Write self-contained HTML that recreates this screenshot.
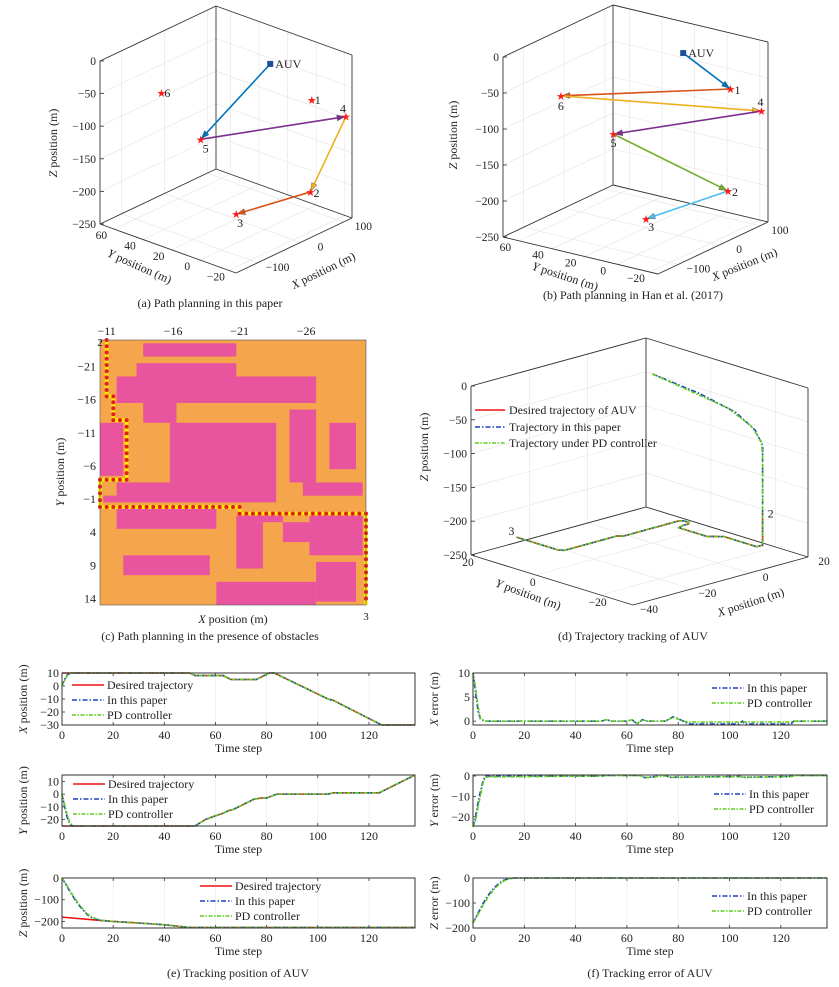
<!DOCTYPE html>
<html><head><meta charset="utf-8"><style>
body{margin:0;background:#fff;}
svg{display:block;font-family:"Liberation Serif",serif;}
</style></head><body>
<svg id="fig" width="839" height="987" viewBox="0 0 839 987"></svg>
<script>
// ---------- DATA ----------
// panel (a) points (x,y,z)
const aNames=['AUV','1','2','3','4','5','6'];
const aX=[13,63,60,-13,106,-49,-87];
const aY=[0,-14,-14,16,-25,30,46];
const aZ=[0,-60,-200,-235,-90,-120,-50];
const aOrder=['AUV','5','4','2','3'];
const aColors=['#0072BD','#7E2F8E','#EDB120','#D95319'];
// panel (b)
const bNames=['AUV','1','2','3','4','5','6'];
const bX=[12,76,70,-7,100,-27,-112];
const bY=[0,-13,-13,18,-26,33,44];
const bZ=[0,-60,-200,-235,-90,-120,-50];
const bOrder=['AUV','1','6','4','5','2','3'];
const bColors=['#0072BD','#D95319','#EDB120','#7E2F8E','#77AC30','#4DBEEE'];
const zTicks3=[0,-50,-100,-150,-200,-250];
const yTicksAB=[60,40,20,0,-20];
const xTicksAB=[-100,0,100];
// panel (c) obstacles [c0,r0,c1,r1] in grid cells
const obstacles=[[3.25,0.5,10.25,2.5],[2.75,3.5,10.25,5.5],[1.25,5.5,16.25,9.5],[3.25,9.5,5.75,12.5],
[5.25,12.5,13.25,21.5],[1.25,21.5,13.25,24.5],[0.25,23.5,1.25,24.5],[0,12.5,1.75,20.5],[14.25,10.5,16.25,21.5],
[15.25,21.5,19.75,23.5],[17.25,12.5,19.25,19.5],[1.25,25.5,8.75,28.5],[10.25,26.5,13.75,27.5],[15.75,26.5,19.75,27.5],
[10.25,27.5,12.25,34.5],[13.75,27.5,19.75,30.5],[15.75,30.5,19.75,32.5],[1.75,32.5,8.25,35.5],[8.75,36.5,16.25,40],[16.25,33.5,19.25,39.5]];
const pathC=[0.5,0.5,1,1,2,2,0,0,10.5,10.5,20,20];
const pathR=[0,8.5,8.5,12.1,12.1,21.1,21.1,25.2,25.2,26.2,26.2,40];
const cXTicks=[-11,-16,-21,-26];
const cYTicks=[-21,-16,-11,-6,-1,4,9,14];
// time series (e)
const xDesT=[0,50,52,63,66,76,79,81,83,104,106,125,138];
const xDesV=[10,10,8,8,5,5,8,10,10,-10,-11,-30,-30];
const xPapT=[0,1,2,3,4,50,52,63,66,76,79,81,83,104,106,125,138];
const xPapV=[0,5,8.5,9.6,10,10,8,8,5,5,8,10,10,-10,-11,-30,-30];
const xPdV=[0,4,8,9.4,10,10,8,8,5,5,8,10,10,-10,-11,-30,-30];
const yDesT=[0,52,56,60,63,65,67,75,78,80,84,104,106,124,138];
const yDesV=[-25,-25,-20,-17,-15,-13,-12,-4,-3,-3,0,0,1,1,15];
const yPapT=[0,1,2,3,4,5,52,56,60,63,65,67,75,78,80,84,104,106,124,138];
const yPapV=[0,-10,-18,-23,-25,-25,-25,-20,-17,-15,-13,-12,-4,-3,-3,0,0,1,1,15];
const yPdV=[0,-8,-16,-22,-24.5,-25,-25,-20,-17,-15,-13,-12,-4,-3,-3,0,0,1,1,15];
const zDesT=[0,15,20,30,40,50,138];
const zDesV=[-180,-195,-200,-207,-215,-228,-228];
const zPapT=[0,2,4,6,8,10,12,15,20,30,40,50,138];
const zPapV=[0,-40,-80,-115,-145,-170,-185,-195,-200,-207,-215,-228,-228];
const zPdV=[0,-36,-75,-110,-140,-166,-182,-194,-200,-207,-215,-228,-228];
// errors (f)
const exT=[0,1,2,3,5,50,52,54,60,62,64,66,68,75,78,80,82,84,104,105,106,124,125,138];
const exP=[10,6,2,0.3,0,0,0.3,0,0,0.3,-0.6,0.3,0,0,0.9,0.5,0,-0.6,-0.6,0,-0.6,-0.6,0,0];
const exD=[10,7,3,0.5,0,0,0.3,0,0,0.3,-0.5,0.3,0,0,0.8,0.4,0,-0.2,-0.2,0,-0.2,-0.2,0,0];
const eyT=[0,1,2,3,4,5,50,52,65,67,75,77,104,106,124,126,138];
const eyP=[-25,-20,-13,-7,-2,0,0,0.3,0.3,-0.8,0.2,-0.6,-0.2,-0.6,-0.2,0.3,0.3];
const eyD=[-25,-22,-15,-9,-3,-0.5,0,0.2,0.2,-0.9,0.1,-0.7,-0.3,-0.7,-0.3,0.2,0.2];
const ezT=[0,2,4,6,8,10,12,14,16,138];
const ezP=[-180,-140,-100,-68,-42,-22,-9,-2,0,0];
const ezD=[-180,-145,-108,-75,-48,-27,-12,-4,-0.5,0];
const tTicks=[0,20,40,60,80,100,120];

// ---------- HELPERS ----------
const NS='http://www.w3.org/2000/svg';
const svg=document.getElementById('fig');
function mk(tag,attrs,parent){const e=document.createElementNS(NS,tag);for(const k in attrs)e.setAttribute(k,attrs[k]);(parent||svg).appendChild(e);return e;}
function nm(e,name){
return e;}
function grp(name){const g=mk('g',{});nm(g,name);return g;}
function num(v){return (v<0?'\u2212':'')+Math.abs(v);}
function txt(p,x,y,s,size,anchor,rot,name){const a={x:x,y:y,'font-size':size,'text-anchor':anchor||'start',fill:'#222'};if(rot)a.transform='rotate('+rot+' '+x+' '+y+')';const t=mk('text',a,p);t.textContent=s;nm(t,name||'label');return t;}
function title(p,x,y,letter,rest,size,rot,name){const a={x:x,y:y,'font-size':size,'text-anchor':'middle',fill:'#222'};if(rot)a.transform='rotate('+rot+' '+x+' '+y+')';const t=mk('text',a,p);nm(t,name);const s1=mk('tspan',{'font-style':'italic'},t);s1.textContent=letter;const s2=mk('tspan',{},t);s2.textContent=rest;return t;}
function interp(T,V,t){if(t<=T[0])return V[0];for(let i=1;i<T.length;i++){if(t<=T[i]){const f=(t-T[i-1])/(T[i]-T[i-1]);return V[i-1]+f*(V[i]-V[i-1]);}}return V[V.length-1];}

// ---------- 3D ----------
function make3d(c){
  c.proj=function(x,y,z){const u=(x-c.xr[0])/(c.xr[1]-c.xr[0]),v=(y-c.yr[0])/(c.yr[1]-c.yr[0]),w=(z-c.zr[0])/(c.zr[1]-c.zr[0]);
    return [c.F[0]+(c.R[0]-c.F[0])*u+(c.L[0]-c.F[0])*v, c.F[1]+(c.R[1]-c.F[1])*u+(c.L[1]-c.F[1])*v-c.H*w];};
  c.uvw=function(u,v,w){return c.proj(c.xr[0]+u*(c.xr[1]-c.xr[0]),c.yr[0]+v*(c.yr[1]-c.yr[0]),c.zr[0]+w*(c.zr[1]-c.zr[0]));};
  const g=c.g;
  const ln=(p,q,col,wd,name)=>{const l=mk('line',{x1:p[0],y1:p[1],x2:q[0],y2:q[1],stroke:col,'stroke-width':wd},g);nm(l,name);return l;};
  // grid
  c.zt.forEach(z=>{const w=(z-c.zr[0])/(c.zr[1]-c.zr[0]);ln(c.uvw(0,1,w),c.uvw(1,1,w),'#e4e4e4',0.6,'grid-z');ln(c.uvw(1,1,w),c.uvw(1,0,w),'#e4e4e4',0.6,'grid-z');});
  c.xt.forEach(x=>{const u=(x-c.xr[0])/(c.xr[1]-c.xr[0]);ln(c.uvw(u,0,0),c.uvw(u,1,0),'#e4e4e4',0.6,'grid-x');ln(c.uvw(u,1,0),c.uvw(u,1,1),'#e4e4e4',0.6,'grid-x');});
  c.yt.forEach(y=>{const v=(y-c.yr[0])/(c.yr[1]-c.yr[0]);ln(c.uvw(0,v,0),c.uvw(1,v,0),'#e4e4e4',0.6,'grid-y');ln(c.uvw(1,v,0),c.uvw(1,v,1),'#e4e4e4',0.6,'grid-y');});
  const E=[[[0,1,1],[1,1,1]],[[1,1,1],[1,0,1]],[[0,1,0],[0,1,1]],[[1,1,0],[1,1,1]],[[1,0,0],[1,0,1]],[[0,1,0],[1,1,0]],[[1,1,0],[1,0,0]],[[0,1,0],[0,0,0]],[[0,0,0],[1,0,0]]];
  E.forEach(e=>ln(c.uvw(...e[0]),c.uvw(...e[1]),'#333',0.9,'box-edge'));
  c.zt.forEach(z=>{const p=c.proj(c.xr[0],c.yr[1],z);ln(p,[p[0]+4,p[1]],'#333',0.8,'z-tick');txt(g,p[0]-4,p[1]+4,num(z),11.5,'end',0,'z-tick-label');});
  c.yt.forEach(y=>{const p=c.proj(c.xr[0],y,c.zr[0]);txt(g,p[0]+c.yo[0],p[1]+c.yo[1],num(y),11.5,'middle',0,'y-tick-label');});
  c.xt.forEach(x=>{const p=c.proj(x,c.yr[0],c.zr[0]);txt(g,p[0]+c.xo[0],p[1]+c.xo[1],num(x),11.5,'middle',0,'x-tick-label');});
  return c;
}
function arrow(g,p,q,col,name){
  const l=mk('line',{x1:p[0],y1:p[1],x2:q[0],y2:q[1],stroke:col,'stroke-width':1.6},g);nm(l,name);
  const dx=q[0]-p[0],dy=q[1]-p[1],L=Math.hypot(dx,dy),ux=dx/L,uy=dy/L;
  const bx=q[0]-ux*9,by=q[1]-uy*9;
  const h=mk('polygon',{points:[q[0]-ux*1,q[1]-uy*1,bx-uy*3,by+ux*3,bx+uy*3,by-ux*3].join(' '),fill:col,stroke:'#333','stroke-width':0.3},g);nm(h,name+'-head');
}
function pathPanel(c,names,X,Y,Z,order,colors,offs){
  const g=c.g;
  const P=n=>{const i=names.indexOf(n);return c.proj(X[i],Y[i],Z[i]);};
  for(let k=0;k<order.length-1;k++)arrow(g,P(order[k]),P(order[k+1]),colors[k],'path-arrow-'+order[k]+'-'+order[k+1]);
  names.forEach((n,i)=>{const p=c.proj(X[i],Y[i],Z[i]);const o=offs[n];
    if(n==='AUV'){const r=mk('rect',{x:p[0]-3,y:p[1]-3,width:6,height:6,fill:'#1f4e99'},g);nm(r,'auv-marker');}
    else{const s=mk('text',{x:p[0],y:p[1]+4,'font-size':11,'text-anchor':'middle',fill:'#ff1a1a','font-family':'DejaVu Sans'},g);s.textContent='\u2605';nm(s,'target-star-'+n);}
    txt(g,p[0]+o[0],p[1]+o[1],n,12,'start',0,'point-label-'+n);});
}

// panel a
const ga=grp('panel-a');
const A=make3d({g:ga,F:[236,273],L:[100,224],R:[352,218],H:163,xr:[-150,120],yr:[-25,70],zr:[-250,0],zt:zTicks3,yt:yTicksAB,xt:xTicksAB,yo:[-13,10],xo:[20,8]});
pathPanel(A,aNames,aX,aY,aZ,aOrder,aColors,{AUV:[5,4],'1':[3,4],'2':[3,5],'3':[1,13],'4':[-6,-4],'5':[2,13],'6':[3,4]});
title(ga,57,143,'Z',' position (m)',12,-90,'z-axis-title');
title(ga,138,270,'Y',' position (m)',12,24,'y-axis-title');
title(ga,325,274,'X',' position (m)',12,-26,'x-axis-title');
txt(ga,210,307,'(a) Path planning in this paper',12,'middle',0,'caption-a');

// panel b
const gb=grp('panel-b');
const B=make3d({g:gb,F:[658,274],L:[503,237],R:[768,222],H:180,xr:[-150,120],yr:[-25,70],zr:[-250,0],zt:zTicks3,yt:yTicksAB,xt:xTicksAB,yo:[-14,10],xo:[20,8]});
pathPanel(B,bNames,bX,bY,bZ,bOrder,bColors,{AUV:[5,4],'1':[4,5],'2':[4,5],'3':[2,12],'4':[-4,-5],'5':[-3,13],'6':[-3,14]});
title(gb,457,135,'Z',' position (m)',12,-90,'z-axis-title');
title(gb,564,280,'Y',' position (m)',12,18,'y-axis-title');
title(gb,746,268,'X',' position (m)',12,-22,'x-axis-title');
txt(gb,633,299,'(b) Path planning in Han et al. (2017)',12,'middle',0,'caption-b');

// panel c
const gc=grp('panel-c');
const cx0=100,cy0=340,cw=13.3,ch=6.625;
const bg=mk('rect',{x:cx0,y:cy0,width:20*cw,height:40*ch,fill:'#F5A54B'},gc);nm(bg,'free-space');
obstacles.forEach((o,i)=>{const r=mk('rect',{x:cx0+o[0]*cw,y:cy0+o[1]*ch,width:(o[2]-o[0])*cw,height:(o[3]-o[1])*ch,fill:'#E8549E'},gc);nm(r,'obstacle');});
const pp=pathC.map((c,i)=>(cx0+c*cw)+','+(cy0+pathR[i]*ch)).join(' ');
const pl=mk('polyline',{points:pp,fill:'none',stroke:'#FFEE00','stroke-width':3.5},gc);nm(pl,'planned-path');
for(let i=0;i<pathC.length-1;i++){const x1=cx0+pathC[i]*cw,y1=cy0+pathR[i]*ch,x2=cx0+pathC[i+1]*cw,y2=cy0+pathR[i+1]*ch;
  const L=Math.hypot(x2-x1,y2-y1),n=Math.max(1,Math.round(L/6.6));
  for(let k=0;k<n;k++){const d=mk('circle',{cx:x1+(x2-x1)*k/n,cy:y1+(y2-y1)*k/n,r:2,fill:'#E0201A'},gc);nm(d,'path-dot');}}
const fr=mk('rect',{x:cx0,y:cy0,width:20*cw,height:40*ch,fill:'none',stroke:'#555','stroke-width':0.6},gc);nm(fr,'plot-frame');
cXTicks.forEach(v=>{const x=cx0+(-10.5-v)*cw;txt(gc,x,335,num(v),12,'middle',0,'x-tick-label');});
cYTicks.forEach(v=>{const y=cy0+(v+25)*ch;txt(gc,96,y+4,num(v),12,'end',0,'y-tick-label');});
txt(gc,100,346,'2',11,'middle',0,'start-label');
txt(gc,366,620,'3',11,'middle',0,'goal-label');
title(gc,64,472,'Y',' position (m)',12,-90,'y-axis-title');
title(gc,233,623,'X',' position (m)',12,0,'x-axis-title');
txt(gc,210,640,'(c) Path planning in the presence of obstacles',12,'middle',0,'caption-c');

// panel d
const gd=grp('panel-d');
const D=make3d({g:gd,F:[633,605],L:[471,555],R:[808,557],H:169,xr:[-40,20],yr:[-30,20],zr:[-250,0],zt:zTicks3,yt:[20,0,-20],xt:[-40,-20,0,20],yo:[-3,11],xo:[16,8]});
function traj3(XT,XV,YT,YV,ZT,ZV,col,dash,wd,name){const pts=[];for(let t=0;t<=138;t+=0.5){const p=D.proj(interp(XT,XV,t),interp(YT,YV,t),interp(ZT,ZV,t));pts.push(p.join(','));}
  const a={points:pts.join(' '),fill:'none',stroke:col,'stroke-width':wd};if(dash)a['stroke-dasharray']=dash;const l=mk('polyline',a,gd);nm(l,name);}
traj3(xDesT,xDesV,yDesT,yDesV,zDesT,zDesV,'#ee1111',null,1.6,'desired-trajectory-3d');
traj3(xPapT,xPapV,yPapT,yPapV,zPapT,zPapV,'#1f3fbf','5,2,1.5,2',1.6,'paper-trajectory-3d');
traj3(xPapT,xPdV,yPapT,yPdV,zPapT,zPdV,'#5fcf1f','4,1.5,1.5,1.5',1.6,'pd-trajectory-3d');
{const p=D.proj(xDesV[0],yDesV[0],zDesV[0]);txt(gd,p[0]+5,p[1]+5,'2',12,'start',0,'start-label');
 const q=D.proj(xDesV[xDesV.length-1],yDesV[yDesV.length-1],zDesV[zDesV.length-1]);txt(gd,q[0]-8,q[1]-2,'3',12,'start',0,'end-label');}
[['#ee1111',null,'Desired trajectory of AUV',410],['#1f3fbf','5,2,1.5,2','Trajectory in this paper',427],['#5fcf1f','4,1.5,1.5,1.5','Trajectory under PD controller',443]].forEach(e=>{
  const a={x1:475,x2:505,y1:e[3],y2:e[3],stroke:e[0],'stroke-width':1.6};if(e[1])a['stroke-dasharray']=e[1];const l=mk('line',a,gd);nm(l,'legend-line');
  txt(gd,509,e[3]+4,e[2],12,'start',0,'legend-entry');});
title(gd,428,447,'Z',' position (m)',12,-90,'z-axis-title');
title(gd,527,598,'Y',' position (m)',12,20,'y-axis-title');
title(gd,752,606,'X',' position (m)',12,-18,'x-axis-title');
txt(gd,633,640,'(d) Trajectory tracking of AUV',12,'middle',0,'caption-d');

// ---------- 2D time plots ----------
function plot2d(o){
  const g=grp(o.name);
  const X=t=>o.x0+(t-0)/(138-0)*o.w, Y=v=>o.y1-(v-o.ymin)/(o.ymax-o.ymin)*(o.y1-o.y0);
  const bgr=mk('rect',{x:o.x0,y:o.y0,width:o.w,height:o.y1-o.y0,fill:'#fff'},g);nm(bgr,'plot-area');
  tTicks.forEach(t=>{const l=mk('line',{x1:X(t),x2:X(t),y1:o.y0,y2:o.y1,stroke:'#ececec','stroke-width':0.7},g);nm(l,'grid-line');
    const a=mk('line',{x1:X(t),x2:X(t),y1:o.y1,y2:o.y1-3,stroke:'#333','stroke-width':0.8},g);nm(a,'x-tick');
    const b=mk('line',{x1:X(t),x2:X(t),y1:o.y0,y2:o.y0+3,stroke:'#333','stroke-width':0.8},g);nm(b,'x-tick');
    txt(g,X(t),o.y1+14,String(t),12,'middle',0,'x-tick-label');});
  o.yt.forEach(v=>{const a=mk('line',{x1:o.x0,x2:o.x0+3,y1:Y(v),y2:Y(v),stroke:'#333','stroke-width':0.8},g);nm(a,'y-tick');
    txt(g,o.x0-3,Y(v)+4,num(v),12,'end',0,'y-tick-label');});
  o.series.forEach(s=>{const a={points:s.T.map((t,i)=>X(t)+','+Y(s.V[i])).join(' '),fill:'none',stroke:s.c,'stroke-width':1.6};if(s.d)a['stroke-dasharray']=s.d;const l=mk('polyline',a,g);nm(l,s.n);});
  const fr=mk('rect',{x:o.x0,y:o.y0,width:o.w,height:o.y1-o.y0,fill:'none',stroke:'#333','stroke-width':1},g);nm(fr,'plot-frame');
  o.leg.forEach((e,i)=>{const y=o.ly+i*15;const a={x1:o.lx,x2:o.lx+32,y1:y,y2:y,stroke:e.c,'stroke-width':1.6};if(e.d)a['stroke-dasharray']=e.d;const l=mk('line',a,g);nm(l,'legend-line');
    txt(g,o.lx+35,y+4,e.t,12,'start',0,'legend-entry');});
  title(g,o.x0-35,(o.y0+o.y1)/2,o.yl[0],o.yl[1],12,-90,'y-axis-title');
  txt(g,o.x0+o.w/2,o.y1+27,'Time step',12,'middle',0,'x-axis-title');
}
const RED='#ee1111',BLU='#1f3fbf',GRN='#5fcf1f',DB='5,2,1.5,2',DG='4,1.5,1.5,1.5';
const L3=[{c:RED,t:'Desired trajectory'},{c:BLU,d:DB,t:'In this paper'},{c:GRN,d:DG,t:'PD controller'}];
const L2=[{c:BLU,d:DB,t:'In this paper'},{c:GRN,d:DG,t:'PD controller'}];
plot2d({name:'x-position-plot',x0:62,w:353,y0:673,y1:725,ymin:-30,ymax:10,yt:[10,0,-10,-20,-30],yl:['X',' position (m)'],lx:72,ly:685,leg:L3,
 series:[{T:xDesT,V:xDesV,c:RED,n:'x-desired'},{T:xPapT,V:xPapV,c:BLU,d:DB,n:'x-paper'},{T:xPapT,V:xPdV,c:GRN,d:DG,n:'x-pd'}]});
plot2d({name:'y-position-plot',x0:62,w:353,y0:775,y1:826,ymin:-25,ymax:15,yt:[10,0,-10,-20],yl:['Y',' position (m)'],lx:73,ly:784,leg:L3,
 series:[{T:yDesT,V:yDesV,c:RED,n:'y-desired'},{T:yPapT,V:yPapV,c:BLU,d:DB,n:'y-paper'},{T:yPapT,V:yPdV,c:GRN,d:DG,n:'y-pd'}]});
plot2d({name:'z-position-plot',x0:62,w:353,y0:878,y1:928,ymin:-230,ymax:0,yt:[0,-100,-200],yl:['Z',' position (m)'],lx:200,ly:886,leg:L3,
 series:[{T:zDesT,V:zDesV,c:RED,n:'z-desired'},{T:zPapT,V:zPapV,c:BLU,d:DB,n:'z-paper'},{T:zPapT,V:zPdV,c:GRN,d:DG,n:'z-pd'}]});
plot2d({name:'x-error-plot',x0:473,w:354,y0:673,y1:725,ymin:-0.8,ymax:10,yt:[10,5,0],yl:['X',' error (m)'],lx:712,ly:688,leg:L2,
 series:[{T:exT,V:exP,c:BLU,d:DB,n:'x-error-paper'},{T:exT,V:exD,c:GRN,d:DG,n:'x-error-pd'}]});
plot2d({name:'y-error-plot',x0:473,w:354,y0:775,y1:826,ymin:-24.5,ymax:0.5,yt:[0,-10,-20],yl:['Y',' error (m)'],lx:714,ly:794,leg:L2,
 series:[{T:eyT,V:eyP,c:BLU,d:DB,n:'y-error-paper'},{T:eyT,V:eyD,c:GRN,d:DG,n:'y-error-pd'}]});
plot2d({name:'z-error-plot',x0:473,w:354,y0:878,y1:928,ymin:-200,ymax:0,yt:[0,-100,-200],yl:['Z',' error (m)'],lx:712,ly:896,leg:L2,
 series:[{T:ezT,V:ezP,c:BLU,d:DB,n:'z-error-paper'},{T:ezT,V:ezD,c:GRN,d:DG,n:'z-error-pd'}]});
const ge=grp('captions-ef');
txt(ge,238,977,'(e) Tracking position of AUV',12,'middle',0,'caption-e');
txt(ge,650,977,'(f) Tracking error of AUV',12,'middle',0,'caption-f');
</script>
</body></html>
